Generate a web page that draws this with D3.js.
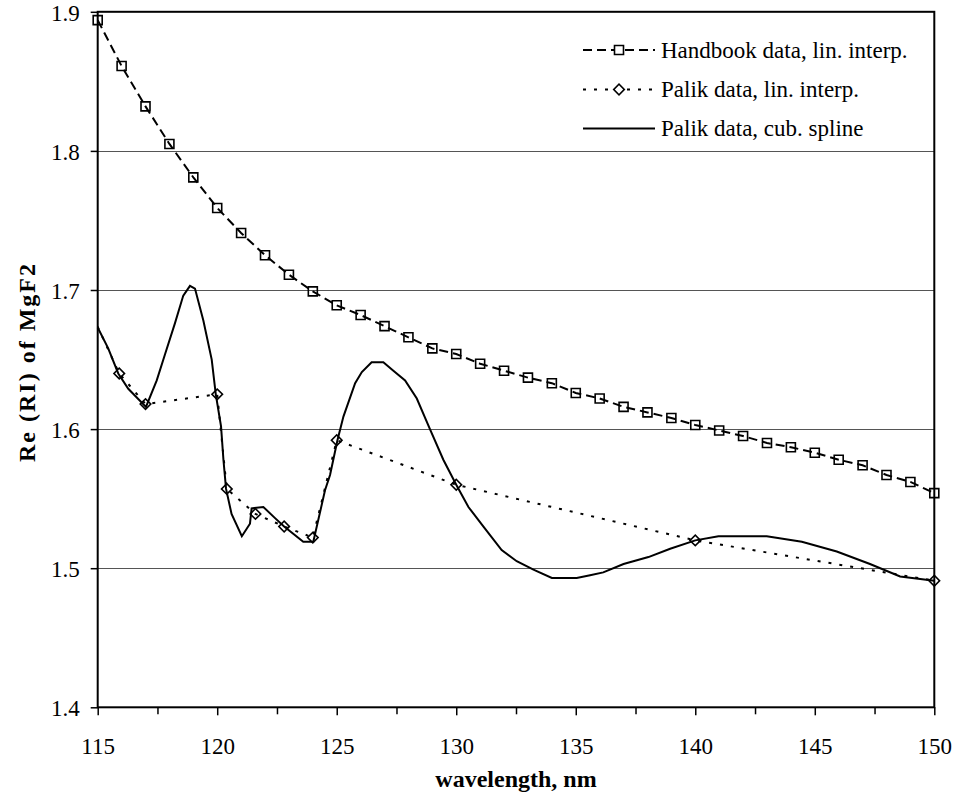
<!DOCTYPE html>
<html lang="en">
<head>
    <meta charset="UTF-8">
    <title>Re (RI) of MgF2</title>
    <script src="https://d3js.org/d3.v7.min.js"></script>
    <style>
        body { margin: 0; background: #fff; }
        svg text { font-family: "Liberation Serif", "Times New Roman", serif; fill: #000; }
        .tick text { font-size: 23px; }
        .axis-title { font-size: 24px; font-weight: bold; }
        .legend text { font-size: 23px; }
    </style>
</head>
<body>
    <div id="chart"></div>
    <script>
        // Handbook data, one point per nm
        const handbookWl = d3.range(115, 151);
        const handbookRI = [1.894, 1.861, 1.832, 1.805, 1.781, 1.759, 1.741, 1.725, 1.711, 1.699,
            1.689, 1.682, 1.674, 1.666, 1.658, 1.654, 1.647, 1.642, 1.637, 1.633,
            1.626, 1.622, 1.616, 1.612, 1.608, 1.603, 1.599, 1.595, 1.590, 1.587,
            1.583, 1.578, 1.574, 1.567, 1.562, 1.554];

        // Palik data points (first one lies just outside the axis range)
        const palikWl = [114.8, 115.9, 117.0, 120.0, 120.4, 121.6, 122.8, 124.0, 125.0, 130.0, 140.0, 150.0];
        const palikRI = [1.681, 1.640, 1.618, 1.625, 1.557, 1.539, 1.530, 1.522, 1.592, 1.560, 1.520, 1.491];

        // cubic spline curve through the Palik data
        const splineWl = [115.0, 115.44, 115.86, 116.28, 117.02, 117.47, 117.82, 118.23, 118.58, 118.86,
            119.07, 119.42, 119.77, 119.94, 120.16, 120.26, 120.37, 120.6, 121.03, 121.37,
            121.44, 121.93, 122.42, 122.8, 123.6, 124.02, 124.51, 124.72, 125.03, 125.28,
            125.77, 126.05, 126.46, 126.95, 127.37, 127.86, 128.35, 128.9, 129.46, 130.0,
            130.51, 131.13, 131.9, 132.53, 133.23, 134.0, 135.04, 135.6, 136.15, 137.0,
            138.04, 138.95, 140.0, 140.97, 142.01, 142.99, 144.46, 145.92, 147.31, 148.57, 150.0];
        const splineRI = [1.673, 1.658, 1.640, 1.629, 1.616, 1.635, 1.654, 1.676, 1.696, 1.703,
            1.701, 1.678, 1.650, 1.625, 1.602, 1.578, 1.557, 1.539, 1.523, 1.532,
            1.543, 1.544, 1.536, 1.530, 1.519, 1.519, 1.556, 1.567, 1.592, 1.609,
            1.633, 1.641, 1.648, 1.648, 1.642, 1.635, 1.622, 1.600, 1.578, 1.560,
            1.544, 1.530, 1.513, 1.505, 1.499, 1.493, 1.493, 1.495, 1.497, 1.503,
            1.508, 1.514, 1.520, 1.523, 1.523, 1.523, 1.519, 1.512, 1.503, 1.494, 1.491];

        const xTicks = [115, 120, 125, 130, 135, 140, 145, 150];
        const xMinorTicks = [117.5, 122.5, 127.5, 132.5, 137.5, 142.5, 147.5];
        const yTicks = [1.4, 1.5, 1.6, 1.7, 1.8, 1.9];
        const legendLabels = ["Handbook data, lin. interp.", "Palik data, lin. interp.", "Palik data, cub. spline"];

        const W = 955, H = 794;
        const plotLeft = 97.7, plotRight = 934.3, plotTop = 11.8, plotBottom = 707.3;

        const svg = d3.select("#chart").append("svg")
            .attr("width", W)
            .attr("height", H);

        const x = d3.scaleLinear().domain([115, 150]).range([plotLeft, plotRight]);
        const y = d3.scaleLinear().domain([1.4, 1.9]).range([plotBottom, plotTop]);

        const zip = (a, b) => a.map((v, i) => [v, b[i]]);
        const handbook = zip(handbookWl, handbookRI);
        const palik = zip(palikWl, palikRI);
        const spline = zip(splineWl, splineRI);

        svg.append("clipPath").attr("id", "plot-clip")
            .append("rect")
            .attr("x", plotLeft).attr("y", plotTop)
            .attr("width", plotRight - plotLeft).attr("height", plotBottom - plotTop);

        // gridlines
        svg.append("g")
            .selectAll("line")
            .data(yTicks.slice(1, -1))
            .enter().append("line")
            .attr("x1", plotLeft).attr("x2", plotRight)
            .attr("y1", d => Math.round(y(d)) + 0.5)
            .attr("y2", d => Math.round(y(d)) + 0.5)
            .attr("stroke", "#555")
            .attr("stroke-width", 1);

        // axes
        const xAxis = svg.append("g")
            .attr("transform", `translate(0,${plotBottom})`)
            .call(d3.axisBottom(x).tickValues(xTicks).tickSize(8).tickPadding(22).tickFormat(d3.format("d")));
        xAxis.select(".domain").remove();
        xAxis.selectAll(".tick line").attr("stroke-width", 1.5);

        const xMinor = svg.append("g")
            .attr("transform", `translate(0,${plotBottom})`)
            .call(d3.axisBottom(x).tickValues(xMinorTicks).tickSize(7).tickFormat(""));
        xMinor.select(".domain").remove();
        xMinor.selectAll(".tick line").attr("stroke-width", 1.5);

        const yAxis = svg.append("g")
            .attr("transform", `translate(${plotLeft},0)`)
            .call(d3.axisLeft(y).tickValues(yTicks).tickSize(7).tickPadding(11).tickFormat(d3.format(".1f")));
        yAxis.select(".domain").remove();
        yAxis.selectAll(".tick line").attr("stroke-width", 1.5);
        yAxis.selectAll(".tick text").attr("dy", "0.36em");

        // plot frame
        svg.append("rect")
            .attr("x", plotLeft).attr("y", plotTop)
            .attr("width", plotRight - plotLeft).attr("height", plotBottom - plotTop)
            .attr("fill", "none")
            .attr("stroke", "#000")
            .attr("stroke-width", 2);

        const line = d3.line().x(d => x(d[0])).y(d => y(d[1]));

        // series
        svg.append("path")
            .datum(handbook)
            .attr("d", line)
            .attr("fill", "none")
            .attr("stroke", "#000")
            .attr("stroke-width", 2)
            .attr("stroke-dasharray", "9,5");

        svg.append("path")
            .datum(palik)
            .attr("clip-path", "url(#plot-clip)")
            .attr("d", line)
            .attr("fill", "none")
            .attr("stroke", "#000")
            .attr("stroke-width", 2)
            .attr("stroke-dasharray", "3,8");

        svg.append("path")
            .datum(spline)
            .attr("d", line)
            .attr("fill", "none")
            .attr("stroke", "#000")
            .attr("stroke-width", 2);

        const square = d3.symbol().type(d3.symbolSquare).size(81);
        const diamond = d3.symbol().type(d3.symbolSquare).size(56);

        svg.append("g")
            .selectAll("path")
            .data(handbook)
            .enter().append("path")
            .attr("d", square)
            .attr("transform", d => `translate(${x(d[0])},${y(d[1])})`)
            .attr("fill", "none")
            .attr("stroke", "#000")
            .attr("stroke-width", 1.6);

        svg.append("g")
            .selectAll("path")
            .data(palik.filter(d => d[0] >= 115))
            .enter().append("path")
            .attr("d", diamond)
            .attr("transform", d => `translate(${x(d[0])},${y(d[1])}) rotate(45)`)
            .attr("fill", "none")
            .attr("stroke", "#000")
            .attr("stroke-width", 1.6);

        // axis titles
        svg.append("text")
            .attr("class", "axis-title")
            .attr("x", (plotLeft + plotRight) / 2)
            .attr("y", 787)
            .attr("text-anchor", "middle")
            .text("wavelength, nm");

        svg.append("text")
            .attr("class", "axis-title")
            .attr("transform", `translate(35,362) rotate(-90)`)
            .attr("text-anchor", "middle")
            .attr("letter-spacing", "2px")
            .text("Re (RI) of MgF2");

        // legend
        const legendX1 = 583, legendX2 = 655, legendY = [50, 89.5, 128.5];
        const legend = svg.append("g").attr("class", "legend");
        const dashes = ["9,5", "3,8", null];

        legendLabels.forEach((label, i) => {
            const ly = legendY[i];
            legend.append("line")
                .attr("x1", legendX1).attr("x2", legendX2)
                .attr("y1", ly).attr("y2", ly)
                .attr("stroke", "#000")
                .attr("stroke-width", 2)
                .attr("stroke-dasharray", dashes[i]);
            if (i === 0) {
                legend.append("path")
                    .attr("d", square)
                    .attr("transform", `translate(${(legendX1 + legendX2) / 2},${ly})`)
                    .attr("fill", "#fff").attr("stroke", "#000").attr("stroke-width", 1.6);
            } else if (i === 1) {
                legend.append("path")
                    .attr("d", diamond)
                    .attr("transform", `translate(${(legendX1 + legendX2) / 2},${ly}) rotate(45)`)
                    .attr("fill", "#fff").attr("stroke", "#000").attr("stroke-width", 1.6);
            }
            legend.append("text")
                .attr("x", 661)
                .attr("y", ly)
                .attr("dy", "0.33em")
                .text(label);
        });
    </script>
</body>
</html>
